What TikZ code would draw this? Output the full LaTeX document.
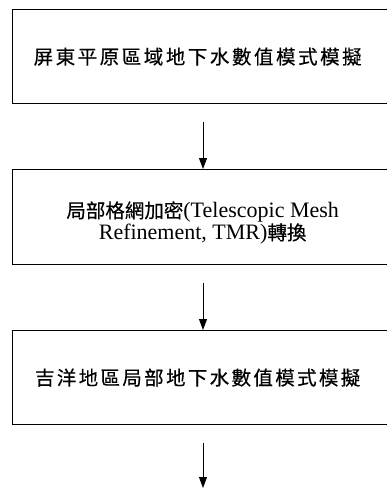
\documentclass[tikz,border=0pt]{standalone}
\usepackage{fontspec}
\setmainfont{Liberation Serif}
\newfontfamily\cjk[FakeBold=0.5]{Noto Sans CJK TC}
\newfontfamily\cjkA[LetterSpace=13,FakeBold=0.5]{Noto Sans CJK TC}
\newfontfamily\cjkB[LetterSpace=12,FakeBold=0.5]{Noto Sans CJK TC}
\usetikzlibrary{arrows.meta}
\begin{document}
\begin{tikzpicture}[x=1pt,y=-1pt,
  boxstyle/.style={draw, line width=1.3pt, anchor=north west, minimum width=380pt, inner sep=0pt, align=center},
  flowarrow/.style={line width=0.9pt, -{Triangle[width=8pt,length=11pt]}}]
\useasboundingbox (0,0) rectangle (387,488);
\clip (0,0) rectangle (387,488);
\node[boxstyle, minimum height=94pt, font=\fontsize{19.5}{22}\cjkA] (b1) at (12,9)
  {屏東平原區域地下水數值模式模擬\rule{10pt}{0pt}};
\node[boxstyle, minimum height=95pt, font=\fontsize{22}{22}\selectfont] (b2) at (12,169)
  {\rule{0pt}{28pt}{\fontsize{19.5}{22}\cjk 局部格網加密}(Telescopic Mesh\\
   Refinement, TMR){\fontsize{19.5}{22}\cjk 轉換}};
\node[boxstyle, minimum height=94pt, font=\fontsize{19.5}{22}\cjkB] (b3) at (12,330)
  {吉洋地區局部地下水數值模式模擬\rule{10pt}{0pt}};
\coordinate (s1) at (203,122);
\coordinate (s2) at (203,283);
\coordinate (s3) at (203,443);
\coordinate (e3) at (203,488);
\draw[flowarrow] (s1) -- (s1 |- b2.north);
\draw[flowarrow] (s2) -- (s2 |- b3.north);
\draw[flowarrow] (s3) -- (e3);
\end{tikzpicture}
\end{document}
